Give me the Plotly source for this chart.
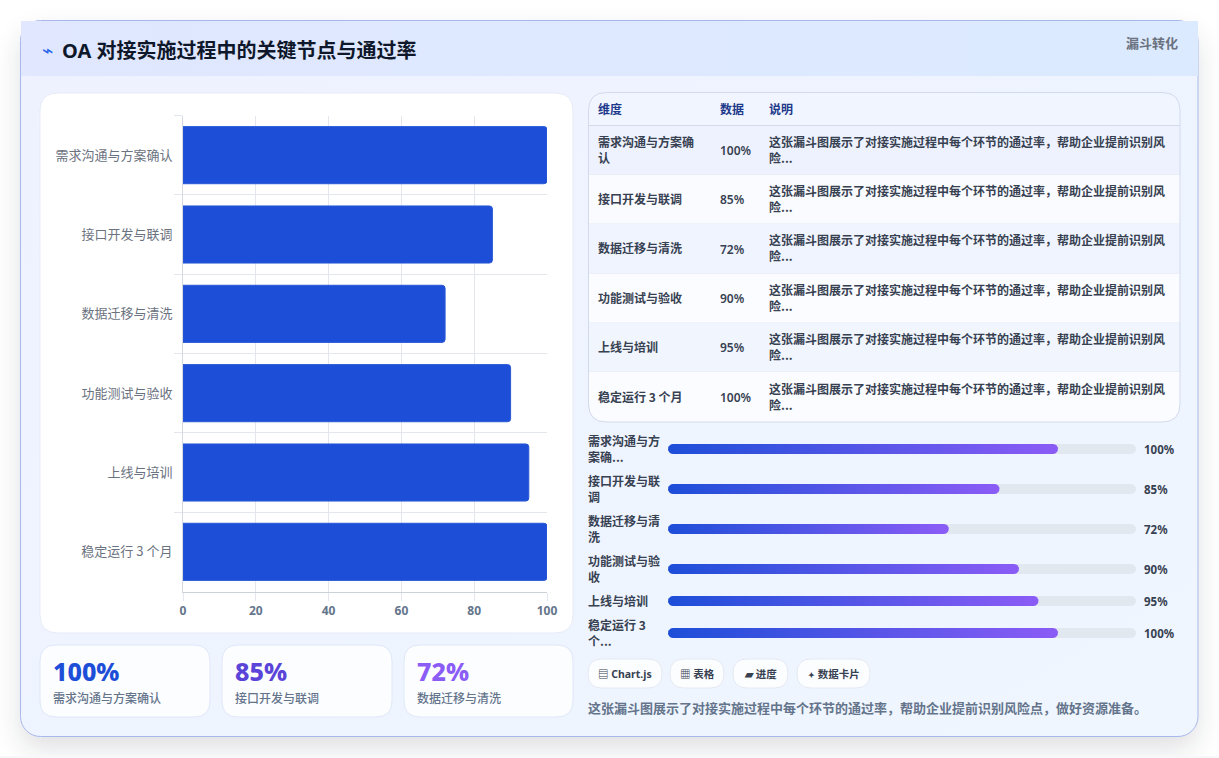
import base64
import numpy as np
import plotly.graph_objects as go

W, H = 1219, 758

categories = ["需求沟通与方案确认", "接口开发与联调", "数据迁移与清洗", "功能测试与验收", "上线与培训", "稳定运行 3 个月"]
values = [100, 85, 72, 90, 95, 100]
x_ticks = [0, 20, 40, 60, 80, 100]
progress_labels = ["需求沟通与方<br>案确...", "接口开发与联<br>调", "数据迁移与清<br>洗", "功能测试与验<br>收", "上线与培训", "稳定运行 3<br>个..."]
table_labels = ["需求沟通与方案确<br>认", "接口开发与联调", "数据迁移与清洗", "功能测试与验收", "上线与培训", "稳定运行 3 个月"]
table_headers = ["维度", "数据", "说明"]
table_note = "这张漏斗图展示了对接实施过程中每个环节的通过率，帮助企业提前识别风<br>险..."
summary = "这张漏斗图展示了对接实施过程中每个环节的通过率，帮助企业提前识别风险点，做好资源准备。"
pills = ["▤ Chart.js", "▦ 表格", "▰ 进度", "<span style='font-size:8px'>✦</span> 数据卡片"]
stat_colors = ["#1d4ed8", "#5a45d8", "#8b5cf6"]

TRACK_MAX = 120
FONT = "Noto Sans, Noto Sans CJK SC, sans-serif"
CJK = "Noto Sans CJK SC, sans-serif"


def px_x(x):
    return x / W


def px_y(y):
    return 1 - y / H


def rounded(x0, y0, x1, y1, tl=0, tr=0, br=0, bl=0):
    return (f"M{x0+tl},{y0} L{x1-tr},{y0} Q{x1},{y0} {x1},{y0+tr} L{x1},{y1-br} Q{x1},{y1} {x1-br},{y1} "
            f"L{x0+bl},{y1} Q{x0},{y1} {x0},{y1-bl} L{x0},{y0+tl} Q{x0},{y0} {x0+tl},{y0} Z")


def to_paper_path(x0, y0, x1, y1, **r):
    # shapes use paper coords, so rescale pixel path
    out = []
    for tok in rounded(x0, y0, x1, y1, **r).split():
        cmd = tok[0] if tok[0] in "MLQ" else ""
        if tok == "Z":
            out.append("Z")
            continue
        a, b = tok[len(cmd):].split(",")
        out.append(f"{cmd}{float(a)/W:.5f},{1-float(b)/H:.5f}")
    return " ".join(out)


def box(x0, y0, x1, y1, fill, line=None, width=1, layer="below", **r):
    return dict(type="path", xref="paper", yref="paper", path=to_paper_path(x0, y0, x1, y1, **r),
                fillcolor=fill, line=dict(color=line or "rgba(0,0,0,0)", width=width if line else 0), layer=layer)


def text(x, y, s, size=12, color="#374151", weight=400, anchor="left", family=FONT, yanchor="middle"):
    # text sits about 1px low in the annotation box
    return dict(xref="paper", yref="paper", x=px_x(x), y=px_y(y - 1), text=s, showarrow=False, xanchor=anchor,
                yanchor=yanchor, align=anchor, borderpad=0, borderwidth=0,
                font=dict(size=size, color=color, family=family, weight=weight))


def pill_shape(value, row_y, half=5):
    # capsule in data units of the progress axes
    rx = half * TRACK_MAX / 468
    t = np.linspace(-np.pi / 2, np.pi / 2, 14)
    xs = np.concatenate([value - rx + rx * np.cos(t), rx - rx * np.cos(t[::-1])[::1]])
    ys = np.concatenate([row_y + half * np.sin(t), row_y + half * np.sin(t[::-1])])
    return np.append(xs, xs[0]), np.append(ys, ys[0])


# page background, card gradient and its shadow
bg_svg = f"""<svg xmlns="http://www.w3.org/2000/svg" width="{W}" height="{H}" viewBox="0 0 {W} {H}">
<defs>
<linearGradient id="b" x1="0" y1="0" x2="1" y2="1"><stop offset="0" stop-color="#eef2ff"/><stop offset="1" stop-color="#eff6ff"/></linearGradient>
<linearGradient id="h" x1="0" y1="0" x2="1" y2="0"><stop offset="0" stop-color="#e0e7ff"/><stop offset="1" stop-color="#dbeafe"/></linearGradient>
<filter id="s" x="-10%" y="-10%" width="120%" height="125%"><feGaussianBlur stdDeviation="14"/></filter>
</defs>
<rect width="{W}" height="{H}" fill="#ffffff"/>
<rect x="20" y="32" width="1178" height="717" rx="20" fill="#0f172a" opacity="0.13" filter="url(#s)"/>
<rect x="0" y="756" width="{W}" height="2" fill="#f8f8fa"/>
<rect x="20.5" y="20.5" width="1177.5" height="716" rx="20" fill="url(#b)" stroke="#a9b8ec"/>
<rect x="21" y="21" width="1177" height="55" fill="url(#h)"/>
</svg>"""
bg_src = "data:image/svg+xml;base64," + base64.b64encode(bg_svg.encode("utf-8")).decode()

fig = go.Figure()

# main bar chart
fig.add_trace(go.Bar(
    x=values, y=categories, orientation="h", width=0.72,
    marker=dict(color="#1d4ed8", line=dict(color="#2a59d6", width=1), cornerradius=3),
    hoverinfo="skip", showlegend=False, xaxis="x", yaxis="y",
))

# progress rows
row_y = [449, 489, 529, 569, 601, 633]
for y in row_y:
    xs, ys = pill_shape(TRACK_MAX, y)
    fig.add_trace(go.Scatter(x=xs, y=ys, mode="lines", line=dict(width=0), fill="toself", fillcolor="#e2e8f0",
                             hoverinfo="skip", showlegend=False, xaxis="x2", yaxis="y2"))
for v, y in zip(values, row_y):
    xs, ys = pill_shape(v, y)
    fig.add_trace(go.Scatter(x=xs, y=ys, mode="lines", line=dict(width=0), fill="toself",
                             fillgradient=dict(type="horizontal", colorscale=[[0, "#1d4ed8"], [1, "#8b5cf6"]]),
                             hoverinfo="skip", showlegend=False, xaxis="x2", yaxis="y2"))

shapes = []
ann = []

# left panel and stat cards
shapes.append(box(40, 93, 573, 633, "#ffffff", "#e6ebf7", tl=18, tr=18, br=18, bl=18))
stat_x = [(40, 210), (222, 392), (404, 573)]
for (x0, x1), v, c, col in zip(stat_x, values, categories, stat_colors):
    shapes.append(box(x0, 645, x1, 717, "rgba(255,255,255,0.8)", "#dfe7f8", tl=16, tr=16, br=16, bl=16))
    ann.append(text(x0 + 13, 672, f"{v}%", 25, col, 800))
    ann.append(text(x0 + 13, 698, c, 12, "#64748b", 500, family=CJK))

# table
row_edges = [125, 175, 224, 274, 323, 372, 422]
row_fill = ["#eef2fe", "#fafbff", "#f0f4fe", "#fafcff", "#f0f5fe", "#fafcff"]
shapes.append(box(589, 93, 1180, 125, "#f1f5ff", tl=18, tr=18))
for i in range(6):
    r = dict(bl=18, br=18) if i == 5 else {}
    shapes.append(box(589, row_edges[i], 1180, row_edges[i + 1], row_fill[i], **r))
    if i < 5:
        shapes.append(dict(type="line", xref="paper", yref="paper", x0=px_x(589), x1=px_x(1180),
                           y0=px_y(row_edges[i + 1]), y1=px_y(row_edges[i + 1]), layer="below",
                           line=dict(color="#e5eaf5", width=1)))
shapes.append(dict(type="line", xref="paper", yref="paper", x0=px_x(589), x1=px_x(1180), y0=px_y(125.5), y1=px_y(125.5),
                   layer="below", line=dict(color="#d3daec", width=1)))
shapes.append(box(588.5, 92.5, 1180, 422, "rgba(0,0,0,0)", "#d3daec", tl=18, tr=18, br=18, bl=18))

col_x = [598, 720, 769]
for x, h in zip(col_x, table_headers):
    ann.append(text(x, 110, h, 12, "#1e3a8a", 700, family=CJK))
for i, (lab, v) in enumerate(zip(table_labels, values)):
    yc = (row_edges[i] + row_edges[i + 1]) / 2
    ann.append(text(col_x[0], yc, lab, 12, "#374151", 700, family=CJK))
    ann.append(text(col_x[1], yc + 1, f"{v}%", 12, "#374151", 600))
    ann.append(text(col_x[2], yc, table_note, 12, "#374151", 700, family=CJK))

# progress labels
for lab, v, y in zip(progress_labels, values, row_y):
    ann.append(text(588, y, lab, 12, "#374151", 700, family=CJK))
    ann.append(text(1144, y + 1, f"{v}%", 11.5, "#374151", 700))

# pills
pill_x = [(588, 662), (670, 724), (733, 788), (797, 870)]
for (x0, x1), p in zip(pill_x, pills):
    shapes.append(box(x0, 659, x1, 688, "rgba(255,255,255,0.8)", "#e4e9f3", tl=14, tr=14, br=14, bl=14))
    ann.append(text((x0 + x1) / 2, 675, p, 10.5, "#374151", 700, anchor="center"))

ann.append(text(588, 708, summary, 13, "#64748b", 600, family=CJK))

# header text
ann.append(text(42, 51, "⌁", 19, "#2563eb", 400, family="DejaVu Sans"))
ann.append(text(62, 51, "OA 对接实施过程中的关键节点与通过率", 20, "#0f172a", 700))
ann.append(text(1178, 44, "漏斗转化", 13, "#6b7280", 700, anchor="right", family=CJK))

fig.update_layout(
    width=W, height=H, autosize=False,
    margin=dict(l=0, r=0, t=0, b=0, pad=0, autoexpand=False),
    paper_bgcolor="rgba(0,0,0,0)", plot_bgcolor="rgba(0,0,0,0)",
    showlegend=False,
    font=dict(family=FONT),
    images=[dict(source=bg_src, xref="paper", yref="paper", x=0, y=1, sizex=1, sizey=1,
                 sizing="stretch", xanchor="left", yanchor="top", layer="below")],
    shapes=shapes, annotations=ann,
    xaxis=dict(domain=[px_x(183), px_x(547)], range=[0, 100], tickvals=x_ticks, showgrid=True, automargin=False,
               gridcolor="#e3e6ec", gridwidth=1, showline=True, linecolor="#ccd1da", linewidth=1,
               ticks="outside", ticklen=8, tickcolor="#e3e6ec", zeroline=False,
               tickfont=dict(size=12, color="#64748b", family=FONT, weight=700), anchor="y"),
    yaxis=dict(domain=[px_y(591.5), px_y(115.5)], type="category", categoryorder="array", categoryarray=categories,
               autorange="reversed", tickson="boundaries", showgrid=True, gridcolor="#e3e6ec", gridwidth=1,
               automargin=False, ticklabelstandoff=7,
               showline=True, linecolor="#d4d8e0", linewidth=1, ticks="outside", ticklen=8, tickcolor="#e3e6ec",
               tickfont=dict(size=13, color="#6b7280", family=CJK), anchor="x"),
    xaxis2=dict(domain=[px_x(668), px_x(1136)], range=[0, TRACK_MAX], visible=False, anchor="y2", fixedrange=True),
    yaxis2=dict(domain=[px_y(640), px_y(440)], range=[640, 440], visible=False, anchor="x2", fixedrange=True),
)

fig.write_html("out.html", config=dict(displayModeBar=False),
               post_script="document.body.style.margin='0';document.body.style.overflow='hidden';")
